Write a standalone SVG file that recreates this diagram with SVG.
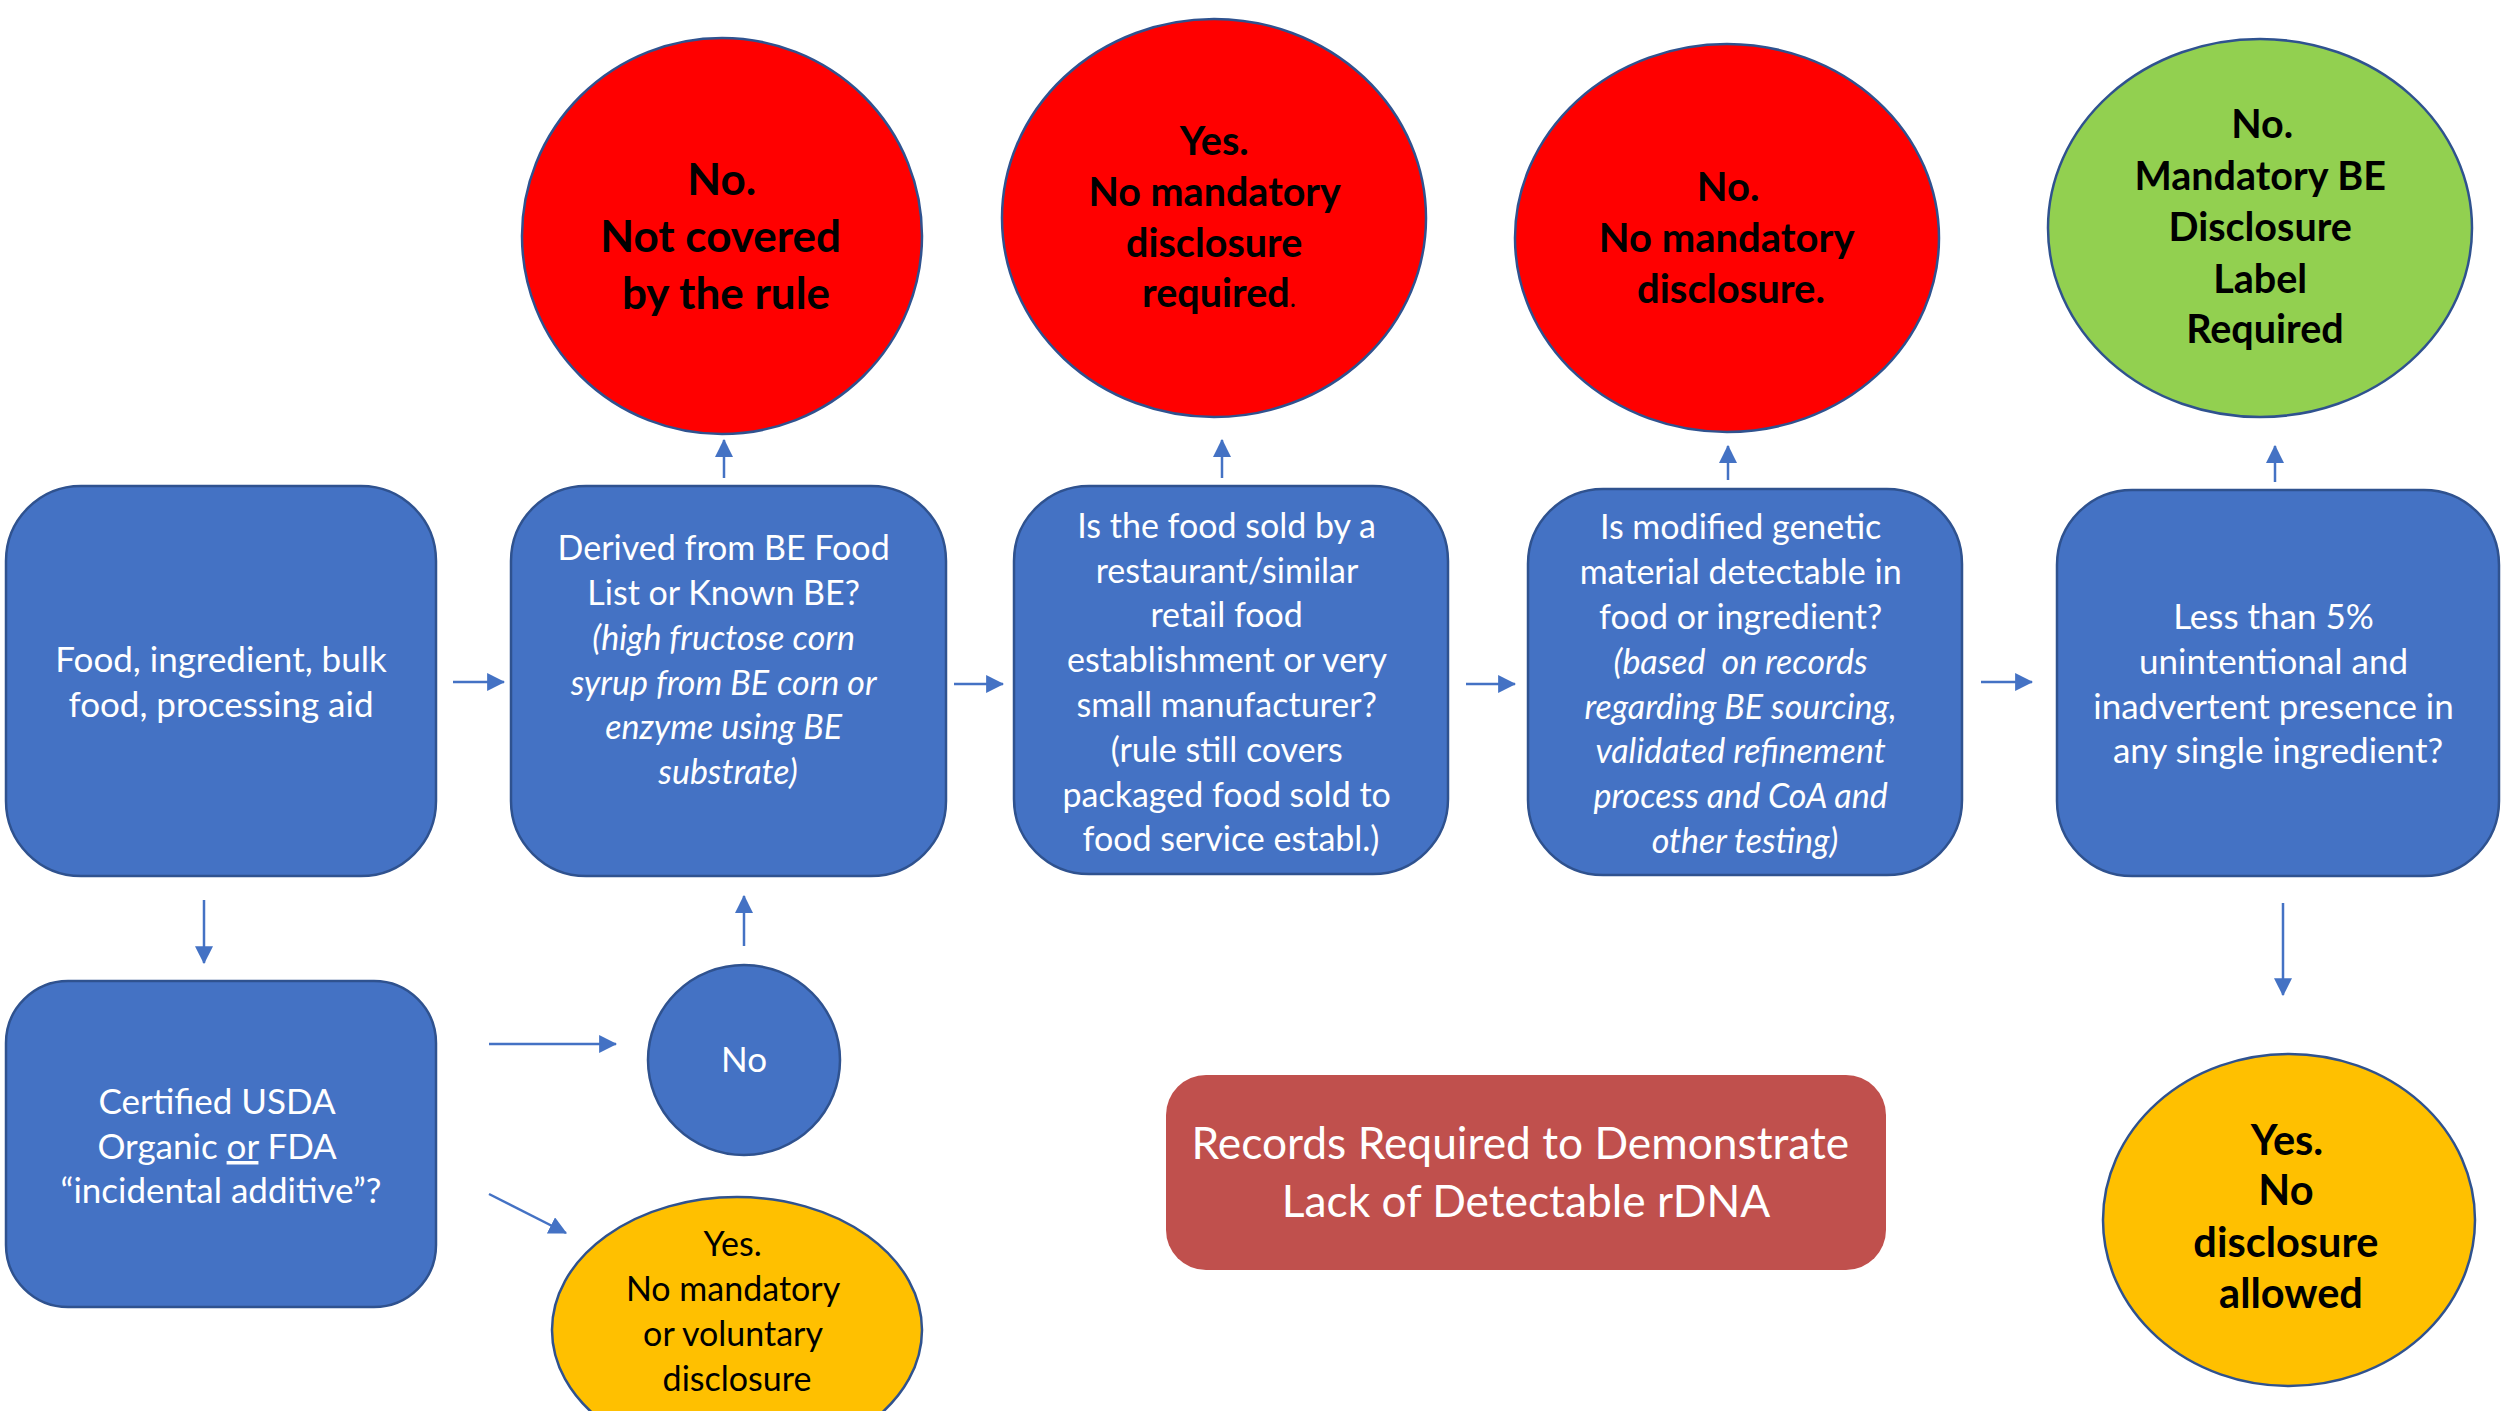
<svg xmlns="http://www.w3.org/2000/svg" width="2509" height="1411" viewBox="0 0 2509 1411">
  <defs>
    <marker id="head" markerUnits="userSpaceOnUse" markerWidth="18" markerHeight="18" viewBox="0 0 16 16" refX="15" refY="8" orient="auto">
      <path d="M0,0 L16,8 L0,16 z" fill="#4472C4"/>
    </marker>
    <style>
      .box { fill: #4472C4; stroke: #2F528F; stroke-width: 2.5; }
      .red { fill: #FF0000; stroke: #2F528F; stroke-width: 2.5; }
      .green { fill: #92D050; stroke: #2F528F; stroke-width: 2.5; }
      .amber { fill: #FFC000; stroke: #2F528F; stroke-width: 2.5; }
      .rec { fill: #C0504D; }
      .conn line { stroke: #4472C4; stroke-width: 2.5; marker-end: url(#head); }
      text { font-family: Lato, "Liberation Sans", sans-serif; text-anchor: middle; }
      .w { fill: #FFFFFF; font-size: 34px; }
      .wl { fill: #FFFFFF; font-size: 35px; }
      .it { font-style: italic; }
      .k { fill: #000000; }
      .bk { fill: #000000; font-weight: bold; }
    </style>
  </defs>

  <rect width="2509" height="1411" fill="#FFFFFF"/>

  <!-- connectors -->
  <g id="connectors" class="conn">
    <line x1="453" y1="682" x2="504" y2="682"/>
    <line x1="954" y1="684" x2="1003" y2="684"/>
    <line x1="1466" y1="684" x2="1515" y2="684"/>
    <line x1="1981" y1="682" x2="2032" y2="682"/>
    <line x1="724" y1="478" x2="724" y2="440"/>
    <line x1="1222" y1="478" x2="1222" y2="440"/>
    <line x1="1728" y1="480" x2="1728" y2="446"/>
    <line x1="2275" y1="482" x2="2275" y2="446"/>
    <line x1="204" y1="900" x2="204" y2="963"/>
    <line x1="489" y1="1044" x2="616" y2="1044"/>
    <line x1="744" y1="946" x2="744" y2="896"/>
    <line x1="489" y1="1194" x2="566" y2="1233"/>
    <line x1="2283" y1="903" x2="2283" y2="995"/>
  </g>

  <!-- start: food / ingredient -->
  <g id="start">
    <rect class="box" x="6" y="486" width="430" height="390" rx="75" ry="75"/>
    <text class="wl"><tspan x="221" y="672">Food, ingredient, bulk</tspan><tspan x="221" y="717">food, processing aid</tspan></text>
  </g>

  <!-- BE food list question -->
  <g id="be-list">
    <rect class="box" x="511" y="486" width="435" height="390" rx="75" ry="75"/>
    <text class="w">
      <tspan x="728" y="560">Derived from BE Food</tspan>
      <tspan x="728" y="605">List or Known BE?</tspan>
      <tspan class="it" x="728" y="650">(high fructose corn</tspan>
      <tspan class="it" x="728" y="695">syrup from BE corn or</tspan>
      <tspan class="it" x="728" y="739">enzyme using BE</tspan>
      <tspan class="it" x="728" y="784">substrate)</tspan>
    </text>
  </g>

  <!-- restaurant / small manufacturer question -->
  <g id="restaurant">
    <rect class="box" x="1014" y="486" width="434" height="388" rx="75" ry="75"/>
    <text class="w">
      <tspan x="1231" y="538">Is the food sold by a</tspan>
      <tspan x="1231" y="583">restaurant/similar</tspan>
      <tspan x="1231" y="627">retail food</tspan>
      <tspan x="1231" y="672">establishment or very</tspan>
      <tspan x="1231" y="717">small manufacturer?</tspan>
      <tspan x="1231" y="762">(rule still covers</tspan>
      <tspan x="1231" y="807">packaged food sold to</tspan>
      <tspan x="1231" y="851">food service establ.)</tspan>
    </text>
  </g>

  <!-- detectability question -->
  <g id="detectable">
    <rect class="box" x="1528" y="489" width="434" height="386" rx="75" ry="75"/>
    <text class="w">
      <tspan x="1745" y="539">Is modified genetic</tspan>
      <tspan x="1745" y="584">material detectable in</tspan>
      <tspan x="1745" y="629">food or ingredient?</tspan>
      <tspan class="it" x="1745" y="674" xml:space="preserve">(based  on records</tspan>
      <tspan class="it" x="1745" y="719">regarding BE sourcing,</tspan>
      <tspan class="it" x="1745" y="763">validated refinement</tspan>
      <tspan class="it" x="1745" y="808">process and CoA and</tspan>
      <tspan class="it" x="1745" y="853">other testing)</tspan>
    </text>
  </g>

  <!-- 5% threshold question -->
  <g id="threshold">
    <rect class="box" x="2057" y="490" width="442" height="386" rx="75" ry="75"/>
    <text class="wl">
      <tspan x="2278" y="629">Less than 5%</tspan>
      <tspan x="2278" y="674">unintentional and</tspan>
      <tspan x="2278" y="719">inadvertent presence in</tspan>
      <tspan x="2278" y="763">any single ingredient?</tspan>
    </text>
  </g>

  <!-- organic / incidental additive question -->
  <g id="organic">
    <rect class="box" x="6" y="981" width="430" height="326" rx="62" ry="62"/>
    <text class="wl">
      <tspan x="221" y="1114">Certified USDA</tspan>
      <tspan x="221" y="1159">Organic <tspan text-decoration="underline">or</tspan> FDA</tspan>
      <tspan x="221" y="1203">“incidental additive”?</tspan>
    </text>
  </g>

  <!-- "No" branch -->
  <g id="no-circle">
    <ellipse class="box" cx="744" cy="1060" rx="96" ry="95"/>
    <text class="wl" x="744" y="1072">No</text>
  </g>

  <!-- organic: no disclosure -->
  <g id="no-voluntary">
    <ellipse class="amber" cx="737" cy="1330" rx="185" ry="133"/>
    <text class="k" font-size="34">
      <tspan x="737" y="1256">Yes.</tspan>
      <tspan x="737" y="1301">No mandatory</tspan>
      <tspan x="737" y="1346">or voluntary</tspan>
      <tspan x="737" y="1391">disclosure</tspan>
    </text>
  </g>

  <!-- outcome: not covered -->
  <g id="not-covered">
    <ellipse class="red" cx="722" cy="236" rx="200" ry="198"/>
    <text class="bk" font-size="44">
      <tspan x="727" y="195">No.</tspan>
      <tspan x="726" y="252">Not covered</tspan>
      <tspan x="726" y="309">by the rule</tspan>
    </text>
  </g>

  <!-- outcome: exempt food establishment -->
  <g id="exempt">
    <ellipse class="red" cx="1214" cy="218" rx="212" ry="199"/>
    <text class="bk" font-size="39.5">
      <tspan x="1219" y="155">Yes.</tspan>
      <tspan x="1219" y="206">No mandatory</tspan>
      <tspan x="1219" y="257">disclosure</tspan>
      <tspan x="1219" y="307">required<tspan font-weight="normal" font-size="26">.</tspan></tspan>
    </text>
  </g>

  <!-- outcome: not detectable -->
  <g id="not-detectable">
    <ellipse class="red" cx="1727" cy="238" rx="212" ry="194"/>
    <text class="bk" font-size="40">
      <tspan x="1733" y="201">No.</tspan>
      <tspan x="1731" y="252">No mandatory</tspan>
      <tspan x="1731" y="303">disclosure.</tspan>
    </text>
  </g>

  <!-- outcome: label required -->
  <g id="label-required">
    <ellipse class="green" cx="2260" cy="228" rx="212" ry="189"/>
    <text class="bk" font-size="39.5">
      <tspan x="2267" y="138">No.</tspan>
      <tspan x="2265" y="190">Mandatory BE</tspan>
      <tspan x="2265" y="241">Disclosure</tspan>
      <tspan x="2265" y="293">Label</tspan>
      <tspan x="2265" y="343">Required</tspan>
    </text>
  </g>

  <!-- outcome: below threshold -->
  <g id="below-threshold">
    <ellipse class="amber" cx="2289" cy="1220" rx="186" ry="166"/>
    <text class="bk" font-size="41.5">
      <tspan x="2292" y="1155">Yes.</tspan>
      <tspan x="2291" y="1205">No</tspan>
      <tspan x="2291" y="1257">disclosure</tspan>
      <tspan x="2291" y="1308">allowed</tspan>
    </text>
  </g>

  <!-- records note -->
  <g id="records">
    <rect class="rec" x="1166" y="1075" width="720" height="195" rx="40" ry="40"/>
    <text fill="#FFFFFF" font-size="44.3">
      <tspan x="1526" y="1159">Records Required to Demonstrate</tspan>
      <tspan x="1526" y="1217">Lack of Detectable rDNA</tspan>
    </text>
  </g>
</svg>
